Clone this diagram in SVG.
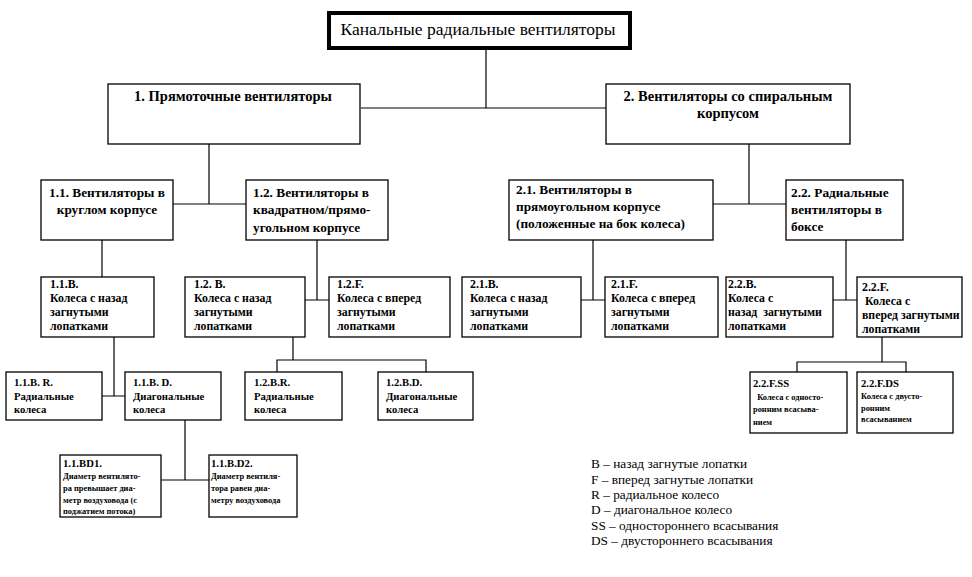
<svg xmlns="http://www.w3.org/2000/svg" width="972" height="577" viewBox="0 0 972 577">
<style>
.b{fill:#fff;stroke:#000;stroke-width:1.3}
.r{fill:#fff;stroke:#000;stroke-width:4}
.c{fill:none;stroke:#000;stroke-width:1.2}
text{font-family:"Liberation Serif","Times New Roman",serif;fill:#000}
.t0{font-size:17.5px}
.t1{font-size:14.5px;font-weight:bold}
.t2{font-size:13.3px;font-weight:bold}
.t3{font-size:11.8px;font-weight:bold}
.t4{font-size:10.7px;font-weight:bold}
.t5{font-size:8.4px;font-weight:bold}
.lg{font-size:13.3px}
.m{text-anchor:middle}
</style>
<rect width="972" height="577" fill="#fff"/>
<g id="connectors">
<path class="c" d="M486 49V108M361 108H606"/>
<path class="c" d="M209 144V204M173 204H246"/>
<path class="c" d="M749 144V204M713 204H786"/>
<path class="c" d="M102 240V277"/>
<path class="c" d="M317 240V300M305 300H329"/>
<path class="c" d="M593 240V300M581 300H605"/>
<path class="c" d="M846 240V300M833 300H857"/>
<path class="c" d="M114 337V396M102 396H125"/>
<path class="c" d="M293 337V360M277 372V360H426V372"/>
<path class="c" d="M882 337V362M797 372V362H906V372"/>
<path class="c" d="M185 420V480M161 480H209"/>
</g>
<g id="root">
<rect class="r" x="329" y="13" width="301" height="35"/>
<text x="478" y="35" class="t0 m">Канальные радиальные вентиляторы</text>
</g>
<g id="n1">
<rect class="b" x="108" y="84" width="252" height="60"/>
<text x="233" y="101" class="t1 m">1. Прямоточные вентиляторы</text>
</g>
<g id="n2">
<rect class="b" x="606" y="84" width="244" height="60"/>
<text x="728" y="101" class="t1 m">2. Вентиляторы со спиральным</text>
<text x="728" y="118" class="t1 m">корпусом</text>
</g>
<g id="n1-1">
<rect class="b" x="41" y="180" width="132" height="60"/>
<text x="107" y="197" class="t2 m">1.1. Вентиляторы в</text>
<text x="107" y="214" class="t2 m">круглом корпусе</text>
</g>
<g id="n1-2">
<rect class="b" x="246" y="180" width="142" height="60"/>
<text x="253" y="197" class="t2">1.2. Вентиляторы в</text>
<text x="253" y="214" class="t2">квадратном/прямо-</text>
<text x="253" y="232" class="t2">угольном корпусе</text>
</g>
<g id="n2-1">
<rect class="b" x="509" y="180" width="204" height="60"/>
<text x="516" y="194" class="t2">2.1. Вентиляторы в</text>
<text x="516" y="211" class="t2">прямоугольном корпусе</text>
<text x="516" y="228" class="t2">(положенные на бок колеса)</text>
</g>
<g id="n2-2">
<rect class="b" x="786" y="180" width="117" height="60"/>
<text x="791" y="197" class="t2">2.2. Радиальные</text>
<text x="791" y="214" class="t2">вентиляторы в</text>
<text x="791" y="231" class="t2">боксе</text>
</g>
<g id="n1-1-B">
<rect class="b" x="41" y="277" width="113" height="60"/>
<text x="50" y="288" class="t3">1.1.B.</text>
<text x="50" y="302" class="t3">Колеса с назад</text>
<text x="50" y="316" class="t3">загнутыми</text>
<text x="50" y="330" class="t3">лопатками</text>
</g>
<g id="n1-2-B">
<rect class="b" x="185" y="277" width="120" height="60"/>
<text x="194" y="288" class="t3">1.2. B.</text>
<text x="194" y="302" class="t3">Колеса с назад</text>
<text x="194" y="316" class="t3">загнутыми</text>
<text x="194" y="330" class="t3">лопатками</text>
</g>
<g id="n1-2-F">
<rect class="b" x="329" y="277" width="121" height="60"/>
<text x="337" y="288" class="t3">1.2.F.</text>
<text x="337" y="302" class="t3">Колеса с вперед</text>
<text x="337" y="316" class="t3">загнутыми</text>
<text x="337" y="330" class="t3">лопатками</text>
</g>
<g id="n2-1-B">
<rect class="b" x="462" y="277" width="119" height="60"/>
<text x="470" y="288" class="t3">2.1.B.</text>
<text x="470" y="302" class="t3">Колеса с назад</text>
<text x="470" y="316" class="t3">загнутыми</text>
<text x="470" y="330" class="t3">лопатками</text>
</g>
<g id="n2-1-F">
<rect class="b" x="605" y="277" width="113" height="60"/>
<text x="611" y="288" class="t3">2.1.F.</text>
<text x="611" y="302" class="t3">Колеса с вперед</text>
<text x="611" y="316" class="t3">загнутыми</text>
<text x="611" y="330" class="t3">лопатками</text>
</g>
<g id="n2-2-B">
<rect class="b" x="726" y="277" width="107" height="60"/>
<text x="728" y="288" class="t3">2.2.B.</text>
<text x="728" y="302" class="t3">Колеса с</text>
<text x="728" y="316" class="t3" xml:space="preserve">назад  загнутыми</text>
<text x="728" y="330" class="t3">лопатками</text>
</g>
<g id="n2-2-F">
<rect class="b" x="857" y="277" width="105" height="60"/>
<text x="862" y="291" class="t3">2.2.F.</text>
<text x="862" y="305" class="t3" xml:space="preserve"> Колеса с</text>
<text x="862" y="319" class="t3">вперед загнутыми</text>
<text x="862" y="333" class="t3">лопатками</text>
</g>
<g id="n1-1-B-R">
<rect class="b" x="6" y="372" width="96" height="48"/>
<text x="14" y="386" class="t4">1.1.B. R.</text>
<text x="14" y="400" class="t4">Радиальные</text>
<text x="14" y="413" class="t4">колеса</text>
</g>
<g id="n1-1-B-D">
<rect class="b" x="125" y="372" width="96" height="48"/>
<text x="133" y="386" class="t4">1.1.B. D.</text>
<text x="133" y="400" class="t4">Диагональные</text>
<text x="133" y="413" class="t4">колеса</text>
</g>
<g id="n1-2-B-R">
<rect class="b" x="245" y="372" width="97" height="48"/>
<text x="254" y="386" class="t4">1.2.B.R.</text>
<text x="254" y="400" class="t4">Радиальные</text>
<text x="254" y="413" class="t4">колеса</text>
</g>
<g id="n1-2-B-D">
<rect class="b" x="378" y="372" width="95" height="48"/>
<text x="386" y="386" class="t4">1.2.B.D.</text>
<text x="386" y="400" class="t4">Диагональные</text>
<text x="386" y="413" class="t4">колеса</text>
</g>
<g id="n2-2-F-SS">
<rect class="b" x="750" y="372" width="97" height="61"/>
<text x="753" y="387" class="t4">2.2.F.SS</text>
<text x="753" y="400" class="t5" xml:space="preserve">  Колеса с односто-</text>
<text x="753" y="412" class="t5">ронним всасыва-</text>
<text x="753" y="425" class="t5">нием</text>
</g>
<g id="n2-2-F-DS">
<rect class="b" x="857" y="372" width="96" height="61"/>
<text x="861" y="387" class="t4">2.2.F.DS</text>
<text x="861" y="399" class="t5">Колеса с двусто-</text>
<text x="861" y="411" class="t5">ронним</text>
<text x="861" y="422" class="t5">всасыванием</text>
</g>
<g id="n1-1-BD1">
<rect class="b" x="60" y="455" width="101" height="62"/>
<text x="63" y="467" class="t4">1.1.BD1.</text>
<text x="63" y="479" class="t5">Диаметр вентилято-</text>
<text x="63" y="491" class="t5">ра превышает диа-</text>
<text x="63" y="503" class="t5">метр воздуховода (с</text>
<text x="63" y="514" class="t5">поджатием потока)</text>
</g>
<g id="n1-1-BD2">
<rect class="b" x="209" y="455" width="88" height="62"/>
<text x="211" y="467" class="t4">1.1.B.D2.</text>
<text x="211" y="479" class="t5">Диаметр вентиля-</text>
<text x="211" y="491" class="t5">тора равен диа-</text>
<text x="211" y="503" class="t5">метру воздуховода</text>
</g>
<g id="legend">
<text x="591" y="468" class="lg">B – назад загнутые лопатки</text>
<text x="591" y="484" class="lg">F  – вперед загнутые лопатки</text>
<text x="591" y="499" class="lg">R – радиальное колесо</text>
<text x="591" y="514" class="lg">D – диагональное колесо</text>
<text x="591" y="530" class="lg">SS – одностороннего всасывания</text>
<text x="591" y="545" class="lg">DS – двустороннего всасывания</text>
</g>
</svg>
